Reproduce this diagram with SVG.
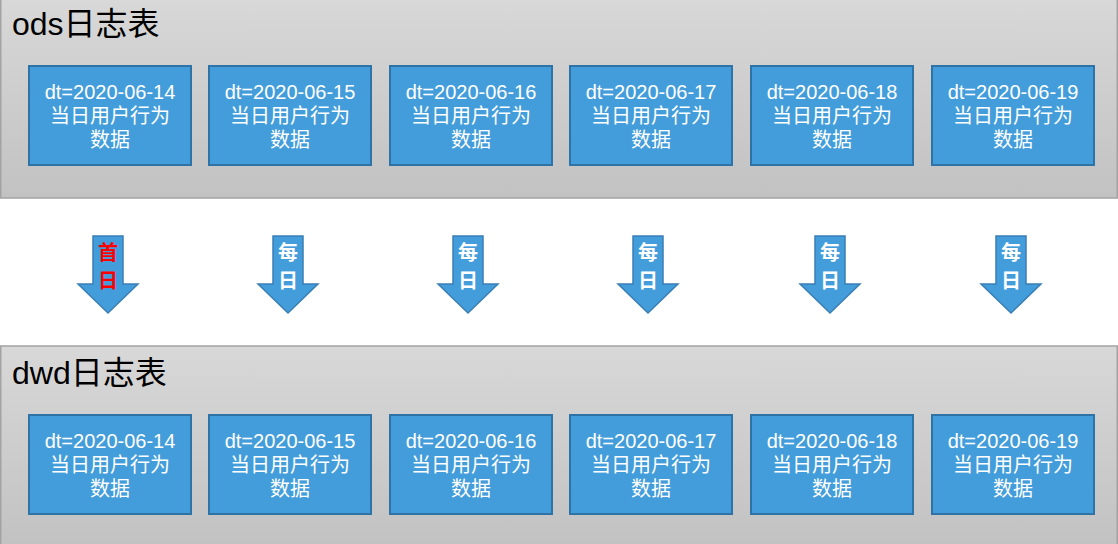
<svg xmlns="http://www.w3.org/2000/svg" width="1118" height="544" viewBox="0 0 1118 544">
<defs>
<linearGradient id="pg" x1="0" y1="0" x2="0" y2="1">
<stop offset="0" stop-color="#d8d8d8"/>
<stop offset="1" stop-color="#c2c2c2"/>
</linearGradient>
<style>
.panel{fill:url(#pg);stroke:#a3a3a3;stroke-width:1.5}
.title{font-family:"Liberation Sans","Noto Sans CJK SC",sans-serif;font-size:32px;fill:#000}
.box{fill:#439ddb;stroke:#2e72a6;stroke-width:2}
.bt{font-family:"Liberation Sans","Noto Sans CJK SC",sans-serif;font-size:20px;fill:#fff;text-anchor:middle}
.arr{fill:#439ddb;stroke:#3a7fb5;stroke-width:1.5}
.at{font-family:"Noto Sans CJK SC",sans-serif;font-size:20px;font-weight:bold;fill:#fff;text-anchor:middle}
.red{fill:#ff0000}
</style>
</defs>
<rect width="1118" height="544" fill="#fff"/>
<g id="ods-panel">
<rect class="panel" x="0.75" y="-1" width="1116.5" height="199"/>
<text class="title" x="12" y="35">ods日志表</text>
</g>
<g id="dwd-panel">
<rect class="panel" x="0.75" y="346" width="1116.5" height="199"/>
<text class="title" x="12" y="384">dwd日志表</text>
</g>
<g id="ods-1"><rect class="box" x="29" y="66" width="162" height="99"/><text class="bt" x="110" y="99">dt=2020-06-14</text><text class="bt" x="110" y="123">当日用户行为</text><text class="bt" x="110" y="147">数据</text></g>
<g id="ods-2"><rect class="box" x="209" y="66" width="162" height="99"/><text class="bt" x="290" y="99">dt=2020-06-15</text><text class="bt" x="290" y="123">当日用户行为</text><text class="bt" x="290" y="147">数据</text></g>
<g id="ods-3"><rect class="box" x="390" y="66" width="162" height="99"/><text class="bt" x="471" y="99">dt=2020-06-16</text><text class="bt" x="471" y="123">当日用户行为</text><text class="bt" x="471" y="147">数据</text></g>
<g id="ods-4"><rect class="box" x="570" y="66" width="162" height="99"/><text class="bt" x="651" y="99">dt=2020-06-17</text><text class="bt" x="651" y="123">当日用户行为</text><text class="bt" x="651" y="147">数据</text></g>
<g id="ods-5"><rect class="box" x="751" y="66" width="162" height="99"/><text class="bt" x="832" y="99">dt=2020-06-18</text><text class="bt" x="832" y="123">当日用户行为</text><text class="bt" x="832" y="147">数据</text></g>
<g id="ods-6"><rect class="box" x="932" y="66" width="162" height="99"/><text class="bt" x="1013" y="99">dt=2020-06-19</text><text class="bt" x="1013" y="123">当日用户行为</text><text class="bt" x="1013" y="147">数据</text></g>
<g id="dwd-1"><rect class="box" x="29" y="415" width="162" height="99"/><text class="bt" x="110" y="448">dt=2020-06-14</text><text class="bt" x="110" y="472">当日用户行为</text><text class="bt" x="110" y="496">数据</text></g>
<g id="dwd-2"><rect class="box" x="209" y="415" width="162" height="99"/><text class="bt" x="290" y="448">dt=2020-06-15</text><text class="bt" x="290" y="472">当日用户行为</text><text class="bt" x="290" y="496">数据</text></g>
<g id="dwd-3"><rect class="box" x="390" y="415" width="162" height="99"/><text class="bt" x="471" y="448">dt=2020-06-16</text><text class="bt" x="471" y="472">当日用户行为</text><text class="bt" x="471" y="496">数据</text></g>
<g id="dwd-4"><rect class="box" x="570" y="415" width="162" height="99"/><text class="bt" x="651" y="448">dt=2020-06-17</text><text class="bt" x="651" y="472">当日用户行为</text><text class="bt" x="651" y="496">数据</text></g>
<g id="dwd-5"><rect class="box" x="751" y="415" width="162" height="99"/><text class="bt" x="832" y="448">dt=2020-06-18</text><text class="bt" x="832" y="472">当日用户行为</text><text class="bt" x="832" y="496">数据</text></g>
<g id="dwd-6"><rect class="box" x="932" y="415" width="162" height="99"/><text class="bt" x="1013" y="448">dt=2020-06-19</text><text class="bt" x="1013" y="472">当日用户行为</text><text class="bt" x="1013" y="496">数据</text></g>
<g id="connectors">
<g id="arrow-1"><path class="arr" d="M93,236 H123 V284 H138 L108,313 L78,284 H93 Z"/><text class="at red" x="108" y="260">首</text><text class="at red" x="108" y="288">日</text></g>
<g id="arrow-2"><path class="arr" d="M273,236 H303 V284 H318 L288,313 L258,284 H273 Z"/><text class="at" x="288" y="260">每</text><text class="at" x="288" y="288">日</text></g>
<g id="arrow-3"><path class="arr" d="M453,236 H483 V284 H498 L468,313 L438,284 H453 Z"/><text class="at" x="468" y="260">每</text><text class="at" x="468" y="288">日</text></g>
<g id="arrow-4"><path class="arr" d="M633,236 H663 V284 H678 L648,313 L618,284 H633 Z"/><text class="at" x="648" y="260">每</text><text class="at" x="648" y="288">日</text></g>
<g id="arrow-5"><path class="arr" d="M815,236 H845 V284 H860 L830,313 L800,284 H815 Z"/><text class="at" x="830" y="260">每</text><text class="at" x="830" y="288">日</text></g>
<g id="arrow-6"><path class="arr" d="M996,236 H1026 V284 H1041 L1011,313 L981,284 H996 Z"/><text class="at" x="1011" y="260">每</text><text class="at" x="1011" y="288">日</text></g>
</g>
</svg>
